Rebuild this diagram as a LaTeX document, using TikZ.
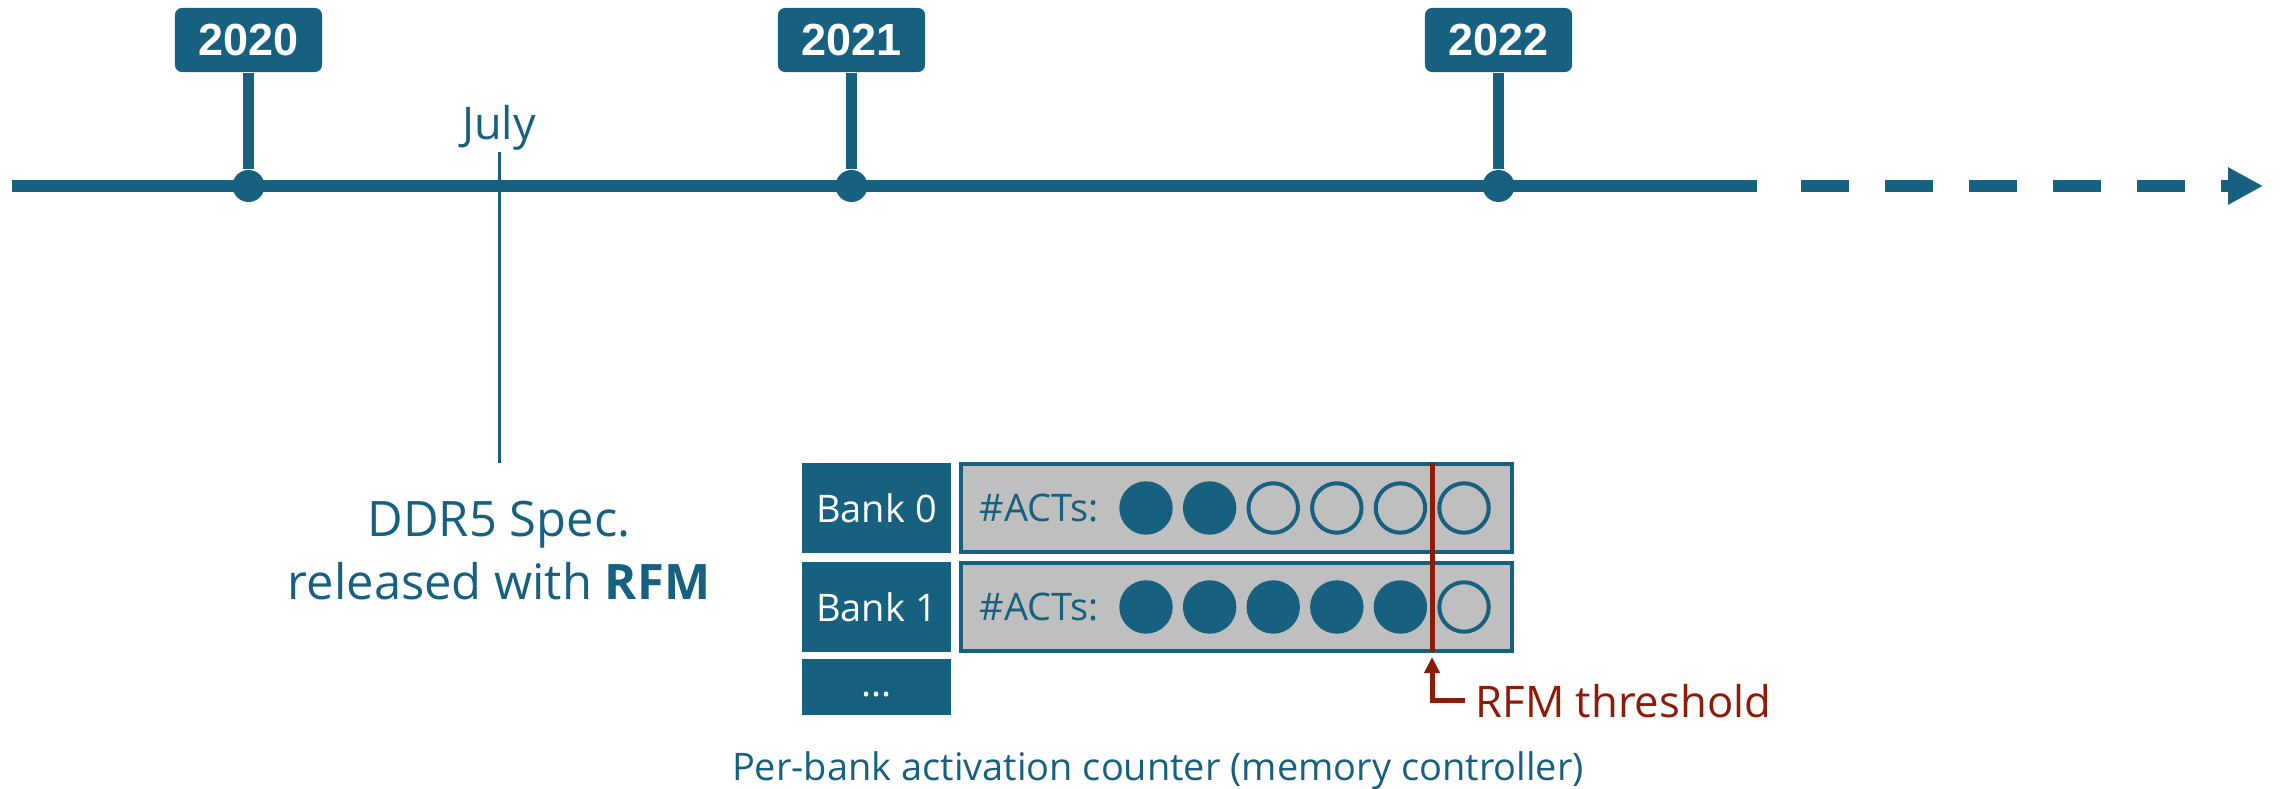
\documentclass[tikz,border=0pt]{standalone}
\usepackage{fontspec}
\setmainfont{Open Sans}
\newfontfamily\yearfont{Liberation Sans}
\usetikzlibrary{arrows.meta}
\definecolor{tlblue}{HTML}{17607F}
\definecolor{thred}{HTML}{8C1C0A}
\definecolor{ctgray}{HTML}{BFBFBF}
\begin{document}
\begin{tikzpicture}[x=0.01cm,y=-0.01cm,
  every node/.style={text=tlblue,inner sep=0pt},
  year/.style={fill=tlblue,rounded corners=0.07cm,minimum width=1.47cm,minimum height=0.64cm,
    text=white,font=\yearfont\bfseries\fontsize{12.8pt}{15pt}\selectfont},
  dot/.style={circle,fill=tlblue,minimum size=0.32cm},
  bank/.style={fill=tlblue,minimum width=1.49cm,minimum height=0.9cm,text=white,
    font=\fontsize{10.8pt}{13pt}\selectfont},
  counter/.style={draw=tlblue,line width=0.04cm,fill=ctgray,minimum width=5.51cm,minimum height=0.87cm},
  act/.style={circle,draw=tlblue,line width=0.04cm,minimum size=0.494cm},
  tline/.style={tlblue,line width=0.12cm}]
  \useasboundingbox (0,0) rectangle (2280,789);

  \coordinate (t0) at (12,186);
  \coordinate (t1) at (1757,186);
  \coordinate (t2) at (1801,186);
  \coordinate (t3) at (2263,186);

  \node[anchor=base,font=\fontsize{12.8pt}{15pt}\selectfont] (july) at (499,140) {July};
  \node[anchor=north,align=center,inner ysep=0.37cm,font=\fontsize{13.9pt}{17.9pt}\selectfont]
    (spec) at (499,463) {DDR5 Spec.\\released with \textbf{RFM}};
  \draw[tlblue,line width=0.03cm] (july) -- (spec);

  \draw[tline] (t0) -- (t1);
  \draw[tline,dash pattern=on 0.48cm off 0.36cm,
    -{Triangle[length=0.35cm,width=0.35cm]}] (t2) -- (t3);

  \foreach \yr/\xx in {2020/248.5,2021/851.5,2022/1498.5}{
    \node[dot] (d\yr) at (\xx,186) {};
    \node[year] (y\yr) at (\xx,40) {\yr};
    \draw[tlblue,line width=0.11cm] (y\yr) -- (d\yr);
  }

  \node[bank] (b0) at (876.5,508) {Bank 0};
  \node[bank] (b1) at (876.5,607) {Bank 1};
  \node[bank,minimum height=0.56cm] (b2) at (876.5,687) {\strut...};
  \node[counter] (c0) at (1236.5,508) {};
  \node[counter] (c1) at (1236.5,607) {};
  \node[anchor=base west,font=\fontsize{10.8pt}{13pt}\selectfont] (n0) at (979,522) {\#ACTs:};
  \node[anchor=base west,font=\fontsize{10.8pt}{13pt}\selectfont] (n1) at (979,621) {\#ACTs:};
  \foreach \i/\f in {0/tlblue,1/tlblue,2/none,3/none,4/none,5/none}
    \node[act,fill=\f] (a0\i) at (1146+63.6*\i,508) {};
  \foreach \i/\f in {0/tlblue,1/tlblue,2/tlblue,3/tlblue,4/tlblue,5/none}
    \node[act,fill=\f] (a1\i) at (1146+63.6*\i,607) {};

  \coordinate (thtop) at (1432,463);
  \coordinate (thbot) at (1432,652);
  \coordinate (thtip) at (1432,657);
  \draw[thred,line width=0.05cm] (thtop) -- (thbot);
  \node[anchor=base west,inner xsep=0.1cm,text=thred,font=\fontsize{12.4pt}{15pt}\selectfont]
    (rfm) at (1465,717) {RFM threshold};
  \draw[thred,line width=0.05cm,-{Triangle[length=0.16cm,width=0.15cm]}] (rfm.west) -| (thtip);

  \node[anchor=base,font=\fontsize{10.8pt}{13pt}\selectfont] (cap) at (1158,780)
    {Per-bank activation counter (memory controller)};
\end{tikzpicture}
\end{document}
